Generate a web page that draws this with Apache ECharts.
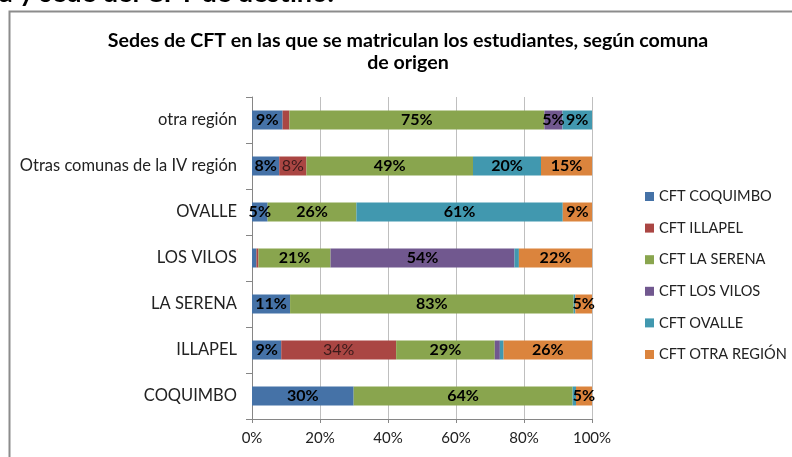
<!DOCTYPE html>
<html>
<head>
<meta charset="utf-8">
<script src="https://cdn.jsdelivr.net/npm/echarts@6/dist/echarts.min.js"></script>
<style>html,body{margin:0;padding:0;background:#fff;}#c{width:792px;height:457px;}</style>
</head>
<body>
<div id="c"></div>
<script>
var categories = ['COQUIMBO', 'ILLAPEL', 'LA SERENA', 'LOS VILOS', 'OVALLE', 'Otras comunas de la IV región', 'otra región'];
var seriesNames = ['CFT COQUIMBO', 'CFT ILLAPEL', 'CFT LA SERENA', 'CFT LOS VILOS', 'CFT OVALLE', 'CFT OTRA REGIÓN'];
var cftCoquimbo = [29.9, 8.6, 11.2, 1.3, 4.6, 8.0, 9.0];
var cftIllapel  = [0, 33.8, 0, 0.6, 0, 8.0, 2.0];
var cftLaSerena = [64.4, 29.0, 83.4, 21.2, 26.1, 49.0, 75.0];
var cftLosVilos = [0, 1.5, 0, 54.1, 0, 0, 5.3];
var cftOvalle   = [1.0, 1.1, 0.5, 1.3, 60.7, 20.0, 8.7];
var cftOtraRegion = [4.7, 26.0, 4.9, 21.5, 8.6, 15.0, 0];
var xTicks = [0, 20, 40, 60, 80, 100];

var allData = [cftCoquimbo, cftIllapel, cftLaSerena, cftLosVilos, cftOvalle, cftOtraRegion];
var colors = ['#4572A7', '#AA4643', '#89A54E', '#71588F', '#4198AF', '#DB843D'];
var font = 'Lato, "Noto Sans", sans-serif';

var series = seriesNames.map(function (name, i) {
  var isRed = (i === 1);
  return {
    name: name,
    type: 'bar',
    stack: 'total',
    barWidth: 19,
    data: allData[i],
    itemStyle: { color: colors[i] },
    label: {
      show: true,
      position: 'inside',
      fontFamily: font,
      fontSize: 16,
      fontWeight: isRed ? 'normal' : 'bold',
      color: isRed ? '#3a1a1a' : '#000',
      formatter: function (p) { return p.value >= 3 ? Math.round(p.value) + '%' : ''; }
    }
  };
});

var chart = echarts.init(document.getElementById('c'), null, { renderer: 'canvas' });
chart.setOption({
  animation: false,
  backgroundColor: '#fff',
  color: colors,
  title: {
    text: 'Sedes de CFT en las que se matriculan los estudiantes, según comuna\nde origen',
    left: 403, top: 25, textAlign: 'center',
    textStyle: { fontFamily: font, fontSize: 19.6, fontWeight: 'bold', color: '#000', lineHeight: 22 }
  },
  graphic: [
    { type: 'rect', shape: { x: 9.5, y: 11.5, width: 820, height: 520 }, style: { fill: 'none', stroke: '#8c8c8c', lineWidth: 2 }, silent: true },
    { type: 'text', left: -1, top: -20, style: { text: 'a y sede del CFT de destino.', fontFamily: font, fontSize: 27, fontWeight: 'bold', fill: '#000' } }
  ],
  legend: {
    orient: 'vertical',
    left: 640, top: 184,
    icon: 'rect', itemWidth: 9, itemHeight: 9, itemGap: 16.6,
    textStyle: { fontFamily: font, fontSize: 14.6, color: '#222', lineHeight: 15 },
    data: seriesNames
  },
  grid: { left: 252, right: 200, top: 97, height: 322, containLabel: false },
  xAxis: {
    type: 'value', min: 0, max: 100, interval: 20,
    axisLine: { show: true, lineStyle: { color: '#868686' } },
    axisTick: { show: true, length: 4, lineStyle: { color: '#868686' } },
    splitLine: { show: true, lineStyle: { color: '#bfbfbf' } },
    axisLabel: {
      fontFamily: font, fontSize: 15, color: '#222', margin: 12,
      formatter: function (v) { return xTicks.indexOf(v) >= 0 ? v + '%' : ''; }
    }
  },
  yAxis: {
    type: 'category', data: categories,
    axisLine: { show: true, lineStyle: { color: '#868686' } },
    axisTick: { show: true, length: 6, lineStyle: { color: '#868686' } },
    axisLabel: { fontFamily: font, fontSize: 16.5, color: '#222', margin: 15 }
  },
  series: series
});
</script>
</body>
</html>
